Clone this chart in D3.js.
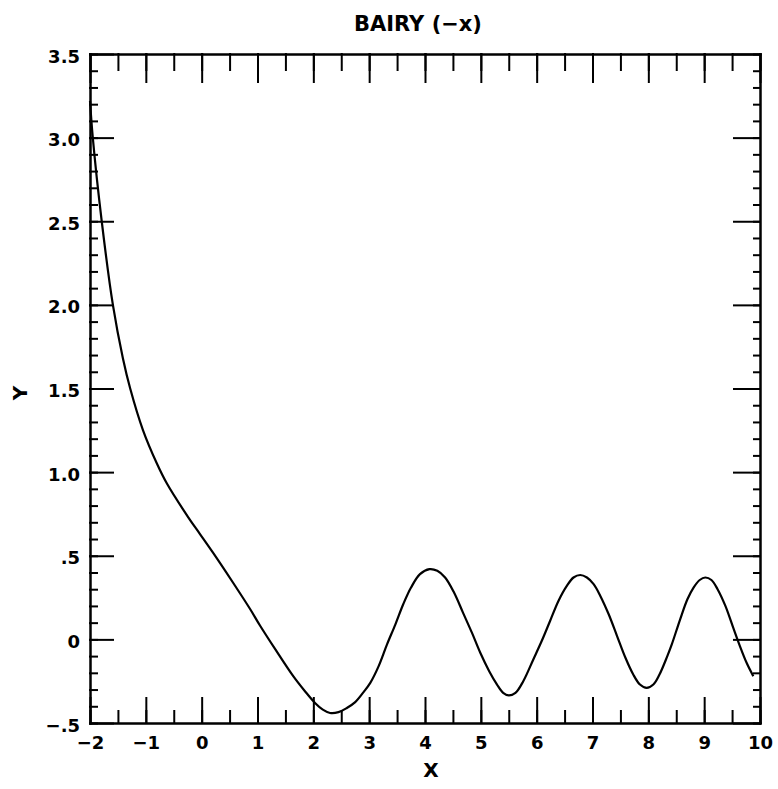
<!DOCTYPE html>
<html>
<head>
<meta charset="utf-8">
<script src="https://cdn.jsdelivr.net/npm/d3@7"></script>
<style>
    body { margin: 0; background: #fff; }
    svg { display: block; }
    .axis path, .axis line { stroke: #000; stroke-width: 2; stroke-linecap: square; }
    .axis text { font-family: "DejaVu Sans", sans-serif; font-weight: bold; font-size: 18px; fill: #000; }
    .curve { fill: none; stroke: #000; stroke-width: 2.2; }
    .title { font-family: "DejaVu Sans", sans-serif; font-weight: bold; fill: #000; }
</style>
</head>
<body>
<script>
// values
var xs = [-2.0, -1.95, -1.79, -1.59, -1.41, -1.28, -1.05, -0.80, -0.62, -0.24, -0.03,
    0.20, 0.56, 0.87, 1.05, 1.32, 1.64, 1.85, 2.03, 2.17, 2.30, 2.45, 2.60, 2.75, 2.90,
    3.02, 3.17, 3.32, 3.47, 3.61, 3.75, 3.91, 4.08, 4.22, 4.36, 4.52, 4.68, 4.84, 4.99,
    5.15, 5.29, 5.40, 5.50, 5.62, 5.76, 5.94, 6.09, 6.24, 6.39, 6.54, 6.66, 6.78, 6.90,
    7.02, 7.14, 7.29, 7.44, 7.59, 7.73, 7.85, 7.97, 8.09, 8.20, 8.34, 8.42, 8.57, 8.70,
    8.81, 8.92, 9.02, 9.13, 9.24, 9.38, 9.52, 9.64, 9.76, 9.88];
var ys = [3.22, 3.0, 2.5, 2.0, 1.68, 1.50, 1.25, 1.05, 0.93, 0.73, 0.63,
    0.52, 0.34, 0.18, 0.08, -0.06, -0.22, -0.31, -0.38, -0.42, -0.44, -0.435, -0.41, -0.375, -0.315,
    -0.26, -0.16, -0.03, 0.09, 0.21, 0.31, 0.39, 0.42, 0.41, 0.37, 0.28, 0.16, 0.04, -0.08,
    -0.19, -0.27, -0.32, -0.335, -0.32, -0.25, -0.12, -0.01, 0.11, 0.23, 0.32, 0.37, 0.385, 0.37,
    0.33, 0.26, 0.15, 0.02, -0.11, -0.21, -0.27, -0.29, -0.27, -0.21, -0.10, -0.03, 0.12, 0.24,
    0.31, 0.355, 0.37, 0.355, 0.30, 0.20, 0.07, -0.04, -0.14, -0.22];

var xTickValues = [-2, -1, 0, 1, 2, 3, 4, 5, 6, 7, 8, 9, 10];
var xTickLabels = ['\u22122', '\u22121', '0', '1', '2', '3', '4', '5', '6', '7', '8', '9', '10'];
var yTickValues = [-0.5, 0, 0.5, 1.0, 1.5, 2.0, 2.5, 3.0, 3.5];
var yTickLabels = ['\u2212.5', '0', '.5', '1.0', '1.5', '2.0', '2.5', '3.0', '3.5'];

var width = 778, height = 789;
var plotLeft = 90, plotRight = 760, plotTop = 54, plotBottom = 723;

var svg = d3.select('body').append('svg')
    .attr('width', width)
    .attr('height', height);

var x = d3.scaleLinear().domain([-2, 10]).range([plotLeft, plotRight]);
var y = d3.scaleLinear().domain([-0.5, 3.5]).range([plotBottom, plotTop]);

var xMinor = x.ticks(24);
var yMinor = y.ticks(40);

function fmt(values, labels) {
    return function(d) { return labels[values.indexOf(d)]; };
}

// left: labelled majors + minors
svg.append('g').attr('class', 'axis')
    .attr('transform', 'translate(' + plotLeft + ',0)')
    .call(d3.axisLeft(y).tickValues(yMinor).tickSizeInner(-7).tickSizeOuter(0).tickFormat(''));
svg.append('g').attr('class', 'axis')
    .attr('transform', 'translate(' + plotLeft + ',0)')
    .call(d3.axisLeft(y).tickValues(yTickValues).tickSizeInner(-23).tickSizeOuter(0)
        .tickPadding(10).tickFormat(fmt(yTickValues, yTickLabels)))
    .selectAll('text').attr('dy', '0.45em');

// right
svg.append('g').attr('class', 'axis')
    .attr('transform', 'translate(' + plotRight + ',0)')
    .call(d3.axisRight(y).tickValues(yMinor).tickSizeInner(-6).tickSizeOuter(0).tickFormat(''));
svg.append('g').attr('class', 'axis')
    .attr('transform', 'translate(' + plotRight + ',0)')
    .call(d3.axisRight(y).tickValues(yTickValues).tickSizeInner(-26).tickSizeOuter(0).tickFormat(''));

// top
svg.append('g').attr('class', 'axis')
    .attr('transform', 'translate(0,' + plotTop + ')')
    .call(d3.axisTop(x).tickValues(xMinor).tickSizeInner(-16).tickSizeOuter(0).tickFormat(''));
svg.append('g').attr('class', 'axis')
    .attr('transform', 'translate(0,' + plotTop + ')')
    .call(d3.axisTop(x).tickValues(xTickValues).tickSizeInner(-28).tickSizeOuter(0).tickFormat(''));

// bottom
svg.append('g').attr('class', 'axis')
    .attr('transform', 'translate(0,' + plotBottom + ')')
    .call(d3.axisBottom(x).tickValues(xMinor).tickSizeInner(-12).tickSizeOuter(0).tickFormat(''));
svg.append('g').attr('class', 'axis')
    .attr('transform', 'translate(0,' + plotBottom + ')')
    .call(d3.axisBottom(x).tickValues(xTickValues).tickSizeInner(-25).tickSizeOuter(0)
        .tickPadding(13).tickFormat(fmt(xTickValues, xTickLabels)));

// the curve
var line = d3.line()
    .x(function(d) { return x(d); })
    .y(function(d, i) { return y(ys[i]); })
    .curve(d3.curveCatmullRom.alpha(0.5));

svg.append('path')
    .datum(xs)
    .attr('class', 'curve')
    .attr('d', line);

// titles
svg.append('text')
    .attr('class', 'title')
    .attr('x', 418)
    .attr('y', 31)
    .attr('text-anchor', 'middle')
    .style('font-size', '21px')
    .text('BAIRY (\u2212x)');

svg.append('text')
    .attr('class', 'title')
    .attr('x', 431)
    .attr('y', 777)
    .attr('text-anchor', 'middle')
    .style('font-size', '20px')
    .text('X');

svg.append('text')
    .attr('class', 'title')
    .attr('transform', 'translate(27,393) rotate(-90)')
    .attr('text-anchor', 'middle')
    .style('font-size', '20px')
    .text('Y');
</script>
</body>
</html>
